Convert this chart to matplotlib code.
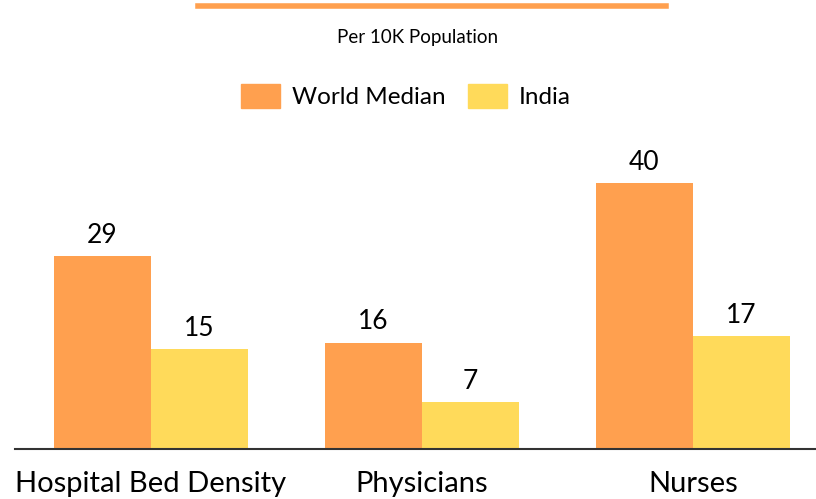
import numpy as np
import matplotlib.pyplot as plt
from matplotlib.patches import Patch
from matplotlib.lines import Line2D

categories = ['Hospital Bed Density', 'Physicians', 'Nurses']
world_median = [29, 16, 40]
india = [15, 7, 17]

orange = '#FFA04F'
yellow = '#FFDA5A'

plt.rcParams['font.family'] = ['Lato', 'DejaVu Sans']

fig = plt.figure(figsize=(8.16, 4.99), dpi=100)
ax = fig.add_axes([15/816, 1 - 449/499, 1 - 15/816, 449/499 - 0.3])

x = np.arange(len(categories))
w = 0.358
b1 = ax.bar(x - w/2, world_median, w, color=orange)
b2 = ax.bar(x + w/2, india, w, color=yellow)
for bars in (b1, b2):
    ax.bar_label(bars, padding=6, fontsize=19, color='black')

ax.set_xlim(-0.502, 2.454)
ax.set_ylim(0, 45)
ax.set_xticks(x)
ax.set_xticklabels(categories, fontsize=21)
ax.tick_params(axis='x', length=0, pad=16)
ax.set_yticks([])
for s in ['top', 'left', 'right']:
    ax.spines[s].set_visible(False)
ax.spines['bottom'].set_linewidth(1.5)
ax.spines['bottom'].set_color('#333333')

# decorative header line
fig.add_artist(Line2D([198/816, 666/816], [1 - 5.5/499, 1 - 5.5/499],
                      color=orange, lw=4, transform=fig.transFigure))
fig.text(418/816, 1 - 38/499, 'Per 10K Population', ha='center', va='center',
         fontsize=13.5)

handles = [Patch(color=orange), Patch(color=yellow)]
fig.legend(handles, ['World Median', 'India'], loc='center',
           bbox_to_anchor=(406/816, 1 - 96/499), ncol=2, frameon=False,
           fontsize=17.5, handlelength=1.6, handleheight=1.2,
           handletextpad=0.47, columnspacing=0.95)

fig.savefig('out.png', dpi=100)
